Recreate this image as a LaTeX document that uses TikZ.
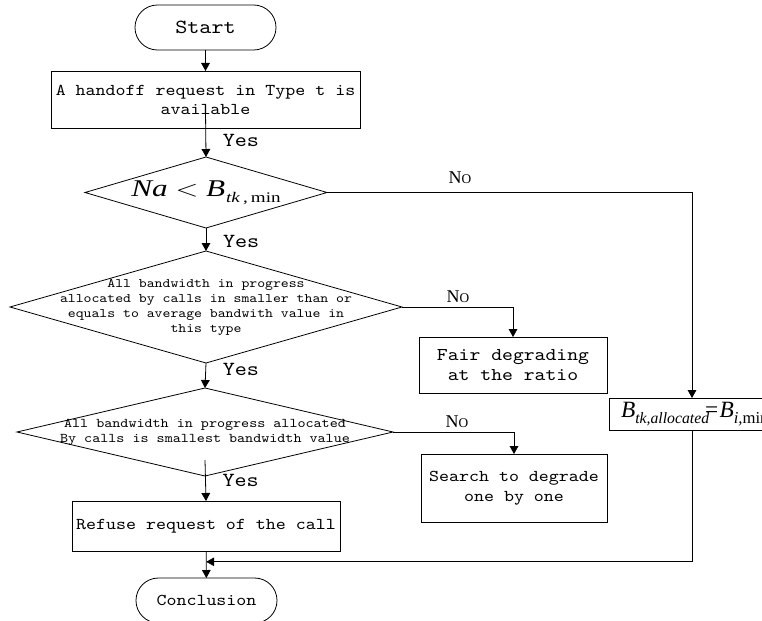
\documentclass[tikz,border=0pt]{standalone}
\usepackage{fontspec}
\usepackage{graphicx}
\usetikzlibrary{arrows.meta,calc}
\newfontfamily\mono{lmmono10-regular.otf}[FakeStretch=1.15]
\newfontfamily\tnr{Liberation Serif}
\newcommand{\fsz}[2]{\fontsize{#1}{#2}\selectfont}
\newcommand{\nolabel}{{\tnr\fsz{13.5}{15}N\fsz{10}{12}O}}
\begin{document}
\begin{tikzpicture}[x=0.75pt,y=-0.75pt,
  every node/.style={inner sep=0pt, outer sep=0pt},
  ln/.style={line width=0.6pt, draw=black},
  box/.style={ln, draw, align=center, font={\mono\fsz{12.4}{14.25}}},
  term/.style={ln, draw, rounded corners=16.8pt, minimum width=105.75pt, minimum height=33.75pt, font={\mono\fsz{12.4}{14.25}}},
  diatext/.style={align=center},
  arr/.style={ln, -{Triangle[length=6pt,width=6.5pt]}},
  yeslab/.style={anchor=west, xshift=12.75pt, font={\mono\fsz{15}{17}}},
  nolab/.style={anchor=base, yshift=#1},
  nolab/.default=3.5pt
]
\useasboundingbox (0,0) rectangle (762,620);
\clip (0,0) rectangle (762,620);

% terminals
\node[term, font={\mono\fsz{15}{17}}] (start) at (205.5,27.5) {Start};
\node[term] (concl) at (206.5,600.5) {Conclusion};

% boxes
\node[box, minimum width=231.75pt, minimum height=42.75pt] (box1) at (205.5,99.5)
  {A handoff request in Type t is\\available};
\node[box, minimum width=141pt, minimum height=42pt, font={\mono\fsz{13.5}{15}}] (fair) at (513,365)
  {Fair degrading\\at the ratio};
\node[box, minimum width=139.5pt, minimum height=51pt, font={\mono\fsz{12.4}{15}}] (search) at (514,488)
  {Search to degrade\\one by one};
\node[box, minimum width=201pt, minimum height=37.5pt] (refuse) at (206,526)
  {Refuse request of the call};
\node[ln, draw, anchor=north west, inner xsep=9pt, minimum height=24pt] (bbox) at (609,398)
  {\tnr\fsz{17.5}{20}\itshape B\raisebox{-4.5pt}{\fsz{11.8}{13}tk,allocated}\kern-3pt\upshape=\kern1pt\itshape B\raisebox{-4.5pt}{\fsz{12.5}{13}i,\upshape min}\kern30pt};

% decisions
\node[minimum width=181.5pt, minimum height=53.25pt] (d1) at (206,192.5)
  {\scalebox{1.3}[1]{\tnr\fsz{18}{20}\itshape Na \upshape$<$ \itshape B\kern0.5pt\raisebox{-4.5pt}{\fsz{11}{12}tk\upshape\,,\,min}}};
\draw[ln] (d1.north) -- (d1.east) -- (d1.south) -- (d1.west) -- cycle;

\node[diatext, minimum width=294pt, minimum height=84pt, font={\mono\fsz{9.8}{11.25}}] (d2) at (206,307)
  {All bandwidth in progress\\allocated by calls in smaller than or\\equals to average bandwith value in\\this type};
\draw[ln] (d2.north) -- (d2.east) -- (d2.south) -- (d2.west) -- cycle;

\node[diatext, minimum width=282pt, minimum height=66pt, font={\mono\fsz{10}{11.25}}] (d3) at (205,432)
  {All bandwidth in progress allocated\\By calls is smallest bandwidth value};
\draw[ln] (d3.north) -- (d3.east) -- (d3.south) -- (d3.west) -- cycle;

% connectors
\draw[arr] (start) -- (box1);
\draw[arr] ([yshift=-8pt]box1.center) -- node[yeslab, pos=0.64] {Yes} (d1.north);
\draw[arr] (d1.south) -- node[yeslab, pos=0.6] {Yes} (d2.north);
\draw[arr] (d2.south) -- node[yeslab, pos=0.25] {Yes} (d3.north);
\draw[arr] ([yshift=-21pt]d3.center) -- node[yeslab, pos=0.5] {Yes} (refuse.north);
\draw[arr] (refuse) -- (concl);
\coordinate (join) at ($(refuse.south)!0.4!(concl.north)$);

\draw[arr] (d1.east) -| node[nolab=6.75pt, pos=0.182] {\nolabel} ([xshift=62.25pt]bbox.north west);
\draw[arr] (d2.east) -| node[nolab, pos=0.252] {\nolabel} (fair.north);
\draw[arr] (d3.east) -| node[nolab, pos=0.264] {\nolabel} (search.north);
\draw[arr] ([xshift=62.25pt]bbox.south west) |- (join);
\end{tikzpicture}
\end{document}
